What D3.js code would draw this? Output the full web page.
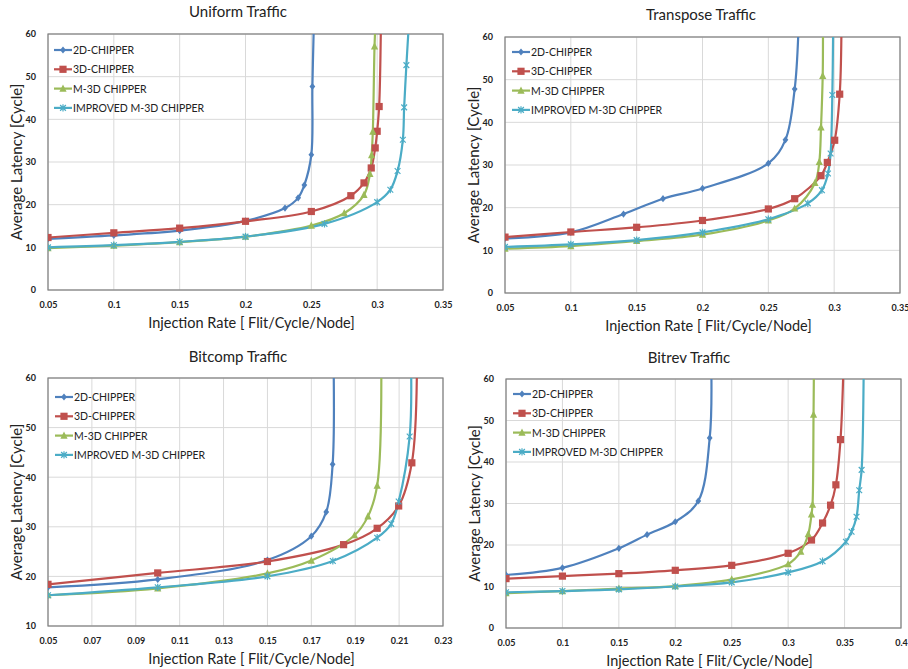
<!DOCTYPE html>
<html lang="en">
<head>
<meta charset="utf-8">
<title>CHIPPER latency vs injection rate</title>
<script src="https://d3js.org/d3.v7.min.js"></script>
<style>
  body { margin: 0; background: #fff; }
  svg text { font-family: Lato, "Open Sans", "Liberation Sans", sans-serif; fill: #222; }
  .tick text { font-weight: bold; font-size: 9px; }
</style>
</head>
<body>
<div id="chart"></div>
<script>
// series names (legend order)
var seriesNames = ["2D-CHIPPER", "3D-CHIPPER", "M-3D CHIPPER", "IMPROVED M-3D CHIPPER"];

// Uniform traffic  [injection rate, latency]
var uniform2D  = [[0.05,12.0],[0.1,12.8],[0.15,13.9],[0.2,16.2],[0.23,19.2],[0.24,21.6],[0.2447,24.6],[0.25,31.7],[0.2508,47.7],[0.2518,61]];
var uniform3D  = [[0.05,12.3],[0.1,13.4],[0.15,14.5],[0.2,16.1],[0.25,18.4],[0.28,22.1],[0.29,25.1],[0.2955,28.6],[0.2985,33.3],[0.3,37.2],[0.3015,43.0],[0.3028,61]];
var uniformM3D = [[0.05,9.8],[0.1,10.4],[0.15,11.2],[0.2,12.5],[0.25,15.1],[0.275,18.0],[0.29,22.3],[0.2945,27.2],[0.2958,31.6],[0.2967,37.1],[0.298,57.1],[0.2985,61]];
var uniformImp = [[0.05,10.0],[0.1,10.5],[0.15,11.3],[0.2,12.5],[0.26,15.5],[0.3,20.6],[0.31,23.5],[0.3155,27.9],[0.3195,35.2],[0.3205,42.8],[0.3222,52.7],[0.3238,61]];

// Transpose traffic
var transpose2D  = [[0.05,12.8],[0.1,14.2],[0.14,18.5],[0.17,22.1],[0.2,24.5],[0.25,30.4],[0.263,35.9],[0.27,47.8],[0.2728,61]];
var transpose3D  = [[0.05,13.1],[0.1,14.3],[0.15,15.4],[0.2,17.0],[0.25,19.7],[0.27,22.1],[0.29,27.5],[0.2948,30.6],[0.3004,35.8],[0.3042,46.6],[0.3055,61]];
var transposeM3D = [[0.05,10.4],[0.1,11.0],[0.15,12.2],[0.2,13.7],[0.25,17.0],[0.27,19.8],[0.2854,25.8],[0.2887,30.7],[0.29,38.8],[0.2913,50.9],[0.2915,61]];
var transposeImp = [[0.05,10.8],[0.1,11.4],[0.15,12.4],[0.2,14.2],[0.25,17.3],[0.28,21.0],[0.2907,24.1],[0.2953,28.0],[0.2973,32.7],[0.2986,46.4],[0.2992,61]];

// Bitcomp traffic
var bitcomp2D  = [[0.05,17.8],[0.1,19.4],[0.15,23.3],[0.17,28.1],[0.1768,33.0],[0.1797,42.6],[0.1802,61]];
var bitcomp3D  = [[0.05,18.4],[0.1,20.7],[0.15,23.0],[0.1847,26.4],[0.2,29.7],[0.2098,34.2],[0.2158,42.9],[0.2181,61]];
var bitcompM3D = [[0.05,16.2],[0.1,17.6],[0.15,20.6],[0.17,23.2],[0.1897,28.3],[0.1958,32.1],[0.2,38.3],[0.2019,61]];
var bitcompImp = [[0.05,16.2],[0.1,17.8],[0.15,20.0],[0.1798,23.1],[0.2,27.8],[0.2064,30.6],[0.2098,35.1],[0.2148,48.2],[0.2155,61]];

// Bitrev traffic
var bitrev2D  = [[0.05,12.8],[0.1,14.5],[0.15,19.2],[0.175,22.5],[0.2,25.6],[0.2204,30.6],[0.2305,45.8],[0.232,61]];
var bitrev3D  = [[0.05,11.9],[0.1,12.5],[0.15,13.1],[0.2,13.9],[0.25,15.1],[0.3,18.0],[0.3207,21.2],[0.3305,25.3],[0.3376,29.6],[0.3423,34.5],[0.3464,45.4],[0.3488,61]];
var bitrevM3D = [[0.05,8.4],[0.1,8.9],[0.15,9.5],[0.2,10.1],[0.25,11.7],[0.3,15.4],[0.3112,18.4],[0.3178,22.6],[0.3207,27.4],[0.3216,29.7],[0.3225,51.4],[0.3228,61]];
var bitrevImp = [[0.05,8.6],[0.1,8.9],[0.15,9.3],[0.2,10.0],[0.25,11.0],[0.3,13.4],[0.3305,16.1],[0.3512,20.8],[0.3562,23.2],[0.3606,26.8],[0.363,33.2],[0.3651,38.1],[0.3669,61]];

// axis ticks
var xTicksA = [0.05, 0.1, 0.15, 0.2, 0.25, 0.3, 0.35];
var xTicksC = [0.05, 0.07, 0.09, 0.11, 0.13, 0.15, 0.17, 0.19, 0.21, 0.23];
var xTicksD = [0.05, 0.1, 0.15, 0.2, 0.25, 0.3, 0.35, 0.4];
var yTicks0 = [0, 10, 20, 30, 40, 50, 60];
var yTicks10 = [10, 20, 30, 40, 50, 60];

var colors = ["#4F81BD", "#C0504D", "#9BBB59", "#4BACC6"];
var markers = ["diamond", "square", "triangle", "star"];

var panels = [
  { id: "u", title: "Uniform Traffic", l: 48, t: 34, r: 443, b: 290, titleX: 238, titleY: 17,
    xDom: [0.05, 0.35], xTicks: xTicksA, yDom: [0, 60], yTicks: yTicks0,
    series: [uniform2D, uniform3D, uniformM3D, uniformImp], legX: 54, legY: 50 },
  { id: "t", title: "Transpose Traffic", l: 505, t: 37, r: 900, b: 293, titleX: 701, titleY: 20,
    xDom: [0.05, 0.35], xTicks: xTicksA, yDom: [0, 60], yTicks: yTicks0,
    series: [transpose2D, transpose3D, transposeM3D, transposeImp], legX: 512, legY: 52 },
  { id: "c", title: "Bitcomp Traffic", l: 48, t: 378, r: 443, b: 626, titleX: 238, titleY: 362,
    xDom: [0.05, 0.23], xTicks: xTicksC, yDom: [10, 60], yTicks: yTicks10,
    series: [bitcomp2D, bitcomp3D, bitcompM3D, bitcompImp], legX: 55, legY: 397 },
  { id: "r", title: "Bitrev Traffic", l: 506, t: 379, r: 901, b: 628, titleX: 689, titleY: 363,
    xDom: [0.05, 0.4], xTicks: xTicksD, yDom: [0, 60], yTicks: yTicks0,
    series: [bitrev2D, bitrev3D, bitrevM3D, bitrevImp], legX: 513, legY: 394 }
];

var svg = d3.select("#chart").append("svg")
    .attr("width", 908)
    .attr("height", 669);

function drawMarker(g, type, cx, cy, color) {
  var s = 3.6;
  if (type === "diamond") {
    g.append("path")
      .attr("d", "M" + cx + "," + (cy - s) + "L" + (cx + s * 0.8) + "," + cy + "L" + cx + "," + (cy + s) + "L" + (cx - s * 0.8) + "," + cy + "Z")
      .attr("fill", color);
  } else if (type === "square") {
    g.append("rect")
      .attr("x", cx - s).attr("y", cy - s)
      .attr("width", 2 * s).attr("height", 2 * s)
      .attr("fill", color);
  } else if (type === "triangle") {
    g.append("path")
      .attr("d", "M" + cx + "," + (cy - s - 0.5) + "L" + (cx + s) + "," + (cy + s - 0.5) + "L" + (cx - s) + "," + (cy + s - 0.5) + "Z")
      .attr("fill", color);
  } else {
    var d = s * 0.8;
    g.append("path")
      .attr("d", "M" + (cx - d) + "," + (cy - d) + "L" + (cx + d) + "," + (cy + d) +
                 "M" + (cx + d) + "," + (cy - d) + "L" + (cx - d) + "," + (cy + d) +
                 "M" + cx + "," + (cy - s) + "L" + cx + "," + (cy + s))
      .attr("stroke", color).attr("stroke-width", 1.2).attr("fill", "none");
  }
}

panels.forEach(function(p) {
  var x = d3.scaleLinear().domain(p.xDom).range([p.l, p.r]);
  var y = d3.scaleLinear().domain(p.yDom).range([p.b, p.t]);

  // title
  svg.append("text")
    .attr("x", p.titleX).attr("y", p.titleY)
    .attr("text-anchor", "middle")
    .style("font-size", "15px")
    .text(p.title);

  // grid
  var grid = svg.append("g");
  grid.selectAll("line.v").data(p.xTicks).enter().append("line")
    .attr("x1", function(d) { return x(d); }).attr("x2", function(d) { return x(d); })
    .attr("y1", p.t).attr("y2", p.b)
    .attr("stroke", "#d9d9d9").attr("stroke-width", 1);
  grid.selectAll("line.h").data(p.yTicks).enter().append("line")
    .attr("x1", p.l).attr("x2", p.r)
    .attr("y1", function(d) { return y(d); }).attr("y2", function(d) { return y(d); })
    .attr("stroke", "#d9d9d9").attr("stroke-width", 1);

  // axes (labels only, frame drawn separately)
  var xAxis = svg.append("g")
    .attr("transform", "translate(0," + p.b + ")")
    .call(d3.axisBottom(x).tickValues(p.xTicks).tickSize(0).tickPadding(12)
      .tickFormat(function(d) { return String(+d.toFixed(2)); }));
  xAxis.select(".domain").remove();
  var yAxis = svg.append("g")
    .attr("transform", "translate(" + p.l + ",0)")
    .call(d3.axisLeft(y).tickValues(p.yTicks).tickSize(0).tickPadding(12));
  yAxis.select(".domain").remove();

  // plot frame
  svg.append("rect")
    .attr("x", p.l).attr("y", p.t)
    .attr("width", p.r - p.l).attr("height", p.b - p.t)
    .attr("fill", "none").attr("stroke", "#7f7f7f").attr("stroke-width", 1.2);

  // axis titles
  svg.append("text")
    .attr("x", (p.l + p.r) / 2 + 6).attr("y", p.b + 38)
    .attr("text-anchor", "middle")
    .style("font-size", "14.5px")
    .text("Injection Rate [ Flit/Cycle/Node]");
  svg.append("text")
    .attr("transform", "translate(" + (p.l - 26) + "," + ((p.t + p.b) / 2) + ") rotate(-90)")
    .attr("text-anchor", "middle")
    .style("font-size", "15px")
    .text("Average Latency [Cycle]");

  // clip
  svg.append("clipPath").attr("id", "clip-" + p.id)
    .append("rect")
    .attr("x", p.l).attr("y", p.t)
    .attr("width", p.r - p.l).attr("height", p.b - p.t);

  var line = d3.line()
    .x(function(d) { return x(d[0]); })
    .y(function(d) { return y(d[1]); })
    .curve(d3.curveCatmullRom.alpha(0.5));

  var plot = svg.append("g").attr("clip-path", "url(#clip-" + p.id + ")");
  p.series.forEach(function(data, i) {
    plot.append("path")
      .datum(data)
      .attr("d", line)
      .attr("fill", "none")
      .attr("stroke", colors[i])
      .attr("stroke-width", 2.2);
  });
  p.series.forEach(function(data, i) {
    var mg = plot.append("g");
    data.filter(function(d) { return d[1] <= p.yDom[1]; }).forEach(function(d) {
      drawMarker(mg, markers[i], x(d[0]), y(d[1]), colors[i]);
    });
  });

  // legend
  var leg = svg.append("g");
  seriesNames.forEach(function(name, i) {
    var ly = p.legY + i * 19.3;
    leg.append("line")
      .attr("x1", p.legX).attr("x2", p.legX + 18)
      .attr("y1", ly).attr("y2", ly)
      .attr("stroke", colors[i]).attr("stroke-width", 2.2);
    drawMarker(leg, markers[i], p.legX + 9, ly, colors[i]);
    leg.append("text")
      .attr("x", p.legX + 19).attr("y", ly + 4)
      .style("font-size", "10.5px")
      .text(name);
  });
});
</script>
</body>
</html>
